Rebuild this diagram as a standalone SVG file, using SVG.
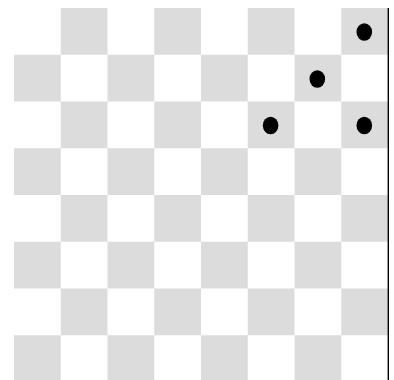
<svg xmlns="http://www.w3.org/2000/svg" width="394" height="380" viewBox="0 0 394 380">
<defs>
<style>
.d{fill:#dcdcdc}
.q{fill:#000}
</style>
<pattern id="chk" x="14" y="8" width="93.5" height="93.5" patternUnits="userSpaceOnUse">
<rect x="46.75" y="0" width="46.75" height="46.75" class="d"/>
<rect x="0" y="46.75" width="46.75" height="46.75" class="d"/>
</pattern>
</defs>
<rect width="394" height="380" fill="#fff"/>
<g id="board">
<rect x="14" y="8" width="374" height="374" fill="url(#chk)"/>
</g>
<g id="edge">
<line x1="388.3" y1="8" x2="388.3" y2="380" stroke="#000" stroke-width="1.4"/>
</g>
<g id="queens">
<ellipse class="q" cx="364.3" cy="32" rx="7.8" ry="8.7"/>
<ellipse class="q" cx="317.3" cy="79" rx="7.8" ry="8.7"/>
<ellipse class="q" cx="270.6" cy="125.5" rx="7.8" ry="8.7"/>
<ellipse class="q" cx="364.3" cy="125.5" rx="7.8" ry="8.7"/>
</g>
</svg>
